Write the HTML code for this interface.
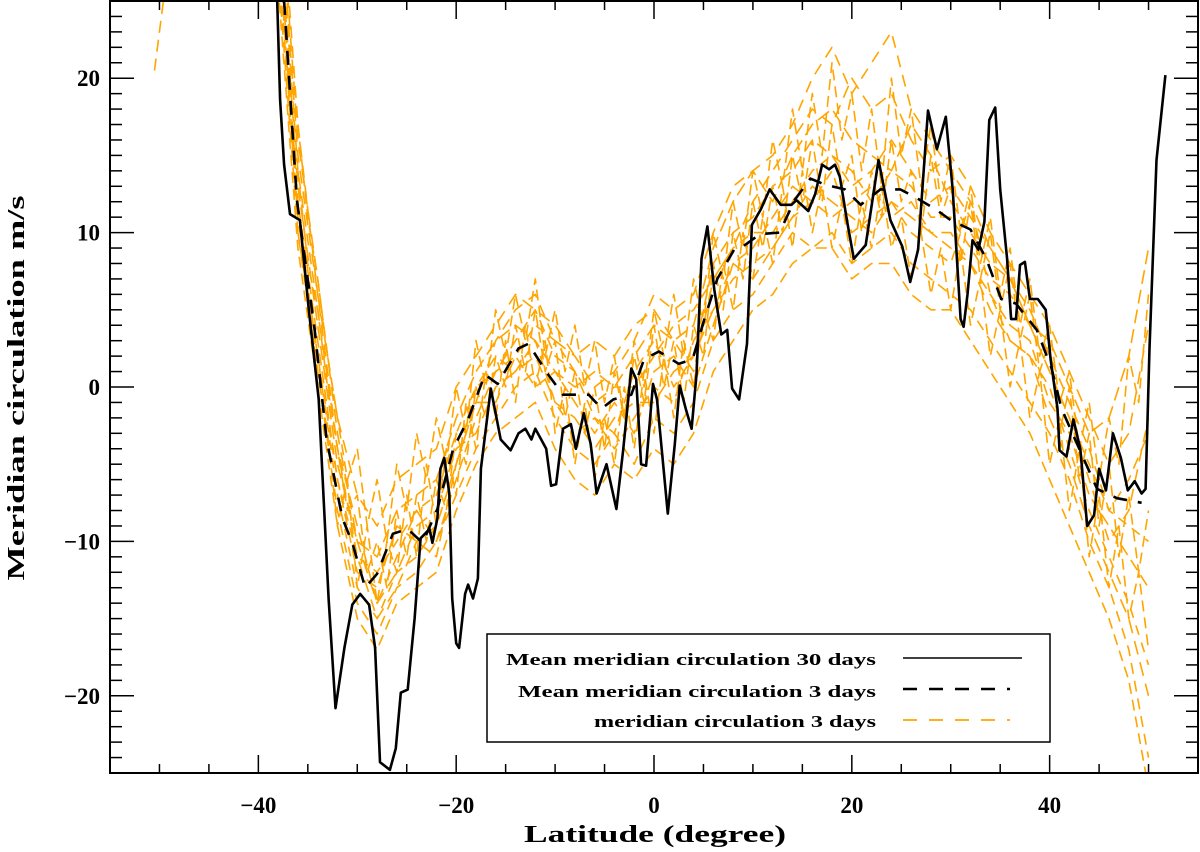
<!DOCTYPE html>
<html><head><meta charset="utf-8"><style>
html,body{margin:0;padding:0;background:#fff;}
svg{display:block;}
text{font-family:"Liberation Serif",serif;font-weight:bold;fill:#000;}
</style></head><body>
<svg id="chart" width="1200" height="852" viewBox="0 0 1200 852" xmlns="http://www.w3.org/2000/svg">
<g id="orange"></g>
<g id="meandash"></g>
<g id="meansolid"></g>
<g id="axes"></g>
<g id="legend">
<rect x="487" y="634" width="563" height="108" fill="#fff" stroke="#000" stroke-width="1.5"/>
<text x="876" y="665" text-anchor="end" font-size="17" textLength="370" lengthAdjust="spacingAndGlyphs">Mean meridian circulation 30 days</text>
<line x1="903" y1="658" x2="1022" y2="658" stroke="#000" stroke-width="1.5"/>
<text x="876" y="697" text-anchor="end" font-size="17" textLength="358" lengthAdjust="spacingAndGlyphs">Mean meridian circulation 3 days</text>
<line x1="903" y1="689" x2="1010" y2="689" stroke="#000" stroke-width="2.5" stroke-dasharray="14 12"/>
<text x="876" y="727" text-anchor="end" font-size="17" textLength="282" lengthAdjust="spacingAndGlyphs">meridian circulation 3 days</text>
<line x1="903" y1="720" x2="1010" y2="720" stroke="#FFA500" stroke-width="1.8" stroke-dasharray="14 12"/>
</g>
<text x="655" y="842" text-anchor="middle" font-size="24" textLength="262" lengthAdjust="spacingAndGlyphs">Latitude (degree)</text>
<text transform="translate(24,388) rotate(-90)" text-anchor="middle" font-size="24" textLength="385" lengthAdjust="spacingAndGlyphs">Meridian circulation m/s</text>
</svg>
<script>
const xTicks = [-40, -20, 0, 20, 40];
const yTicks = [-20, -10, 0, 10, 20];
const solidLat = [-38.1,-37.8,-37.4,-36.8,-35.8,-34.9,-33.9,-33.4,-32.9,-32.2,-31.3,-30.5,-29.7,-28.8,-28.2,-27.7,-26.7,-26.1,-25.6,-24.9,-24.2,-23.6,-22.7,-22.4,-21.9,-21.6,-21.2,-20.7,-20.4,-20.0,-19.7,-19.1,-18.8,-18.3,-17.8,-17.5,-16.5,-15.5,-14.5,-13.7,-13.0,-12.4,-12.0,-11.4,-10.9,-10.4,-9.9,-9.2,-8.4,-7.9,-7.1,-6.4,-5.8,-4.8,-3.8,-3.1,-2.3,-1.8,-1.3,-0.8,-0.1,0.3,1.4,2.1,2.6,3.2,3.8,4.3,4.8,5.4,6.1,6.8,7.4,7.9,8.6,9.4,9.9,10.8,11.7,12.8,13.9,14.4,15.6,16.3,17.0,17.7,18.3,18.8,19.5,20.2,21.4,22.7,23.9,25.1,25.9,26.7,27.2,27.7,28.6,29.5,30.2,31.0,31.3,31.7,32.2,32.8,33.4,33.9,34.5,35.0,35.7,36.1,36.6,37.0,37.5,38.0,38.8,39.6,40.1,40.8,41.0,41.7,42.4,43.1,43.8,44.5,45.0,45.7,46.4,47.2,47.9,48.6,49.3,49.7,50.1,50.8,51.7];
const solidVal = [25.0,18.6,14.4,11.2,10.8,5.0,-0.8,-7.2,-13.7,-20.8,-16.9,-14.1,-13.4,-14.1,-16.9,-24.3,-24.8,-23.4,-19.8,-19.6,-15.0,-9.8,-9.2,-10.1,-8.5,-5.3,-4.6,-6.9,-13.7,-16.6,-16.9,-13.4,-12.8,-13.7,-12.4,-5.3,-0.1,-3.4,-4.1,-3.0,-2.7,-3.4,-2.7,-3.4,-4.0,-6.4,-6.3,-2.7,-2.4,-4.0,-1.7,-3.7,-6.9,-5.0,-7.9,-4.0,1.2,0.5,-5.0,-5.1,0.2,-0.8,-8.2,-3.7,0.1,-1.4,-2.7,0.8,8.3,10.4,6.3,3.4,3.7,-0.1,-0.8,2.8,10.5,11.5,12.8,11.8,11.8,12.1,11.4,12.5,14.4,14.1,14.4,13.6,10.8,8.3,9.2,14.7,10.8,9.1,6.8,8.9,13.4,17.9,15.4,17.5,12.8,4.4,3.9,6.0,9.5,8.9,10.7,17.3,18.1,12.8,8.3,4.4,4.4,7.9,8.1,5.7,5.7,5.0,1.8,-1.4,-4.1,-4.5,-2.1,-4.0,-9.0,-8.3,-5.3,-6.7,-3.0,-4.6,-6.7,-6.1,-6.9,-6.6,2.5,14.7,20.2];
const dashLat = [-37.4,-36.1,-34.3,-33.1,-31.5,-30.5,-29.2,-28.0,-26.4,-24.9,-23.4,-21.9,-20.3,-18.8,-17.1,-15.8,-13.7,-12.7,-10.7,-9.2,-6.6,-5.3,-4.1,-2.3,-1.0,0.5,2.5,3.9,5.1,6.4,8.1,9.2,10.7,12.7,14.2,15.8,17.3,19.3,20.9,22.9,24.9,26.4,28.5,30.0,32.0,33.6,35.1,36.6,38.7,40.2,41.2,43.2,44.8,46.8,49.3];
const dashVal = [25.0,12.1,3.7,-3.4,-8.5,-10.1,-13.0,-12.1,-9.5,-9.2,-10.1,-7.9,-4.0,-2.1,0.8,0.2,2.5,2.8,0.8,-0.5,-0.5,-1.4,-0.8,-0.5,1.8,2.3,1.5,1.8,4.4,7.0,8.9,9.2,9.9,10.0,12.1,13.5,13.1,12.8,11.8,12.8,12.8,12.3,11.5,10.8,10.2,8.3,5.7,5.4,3.7,1.2,-1.4,-4.3,-6.6,-7.2,-7.5];
const orangeLat = [-38,-36,-34,-32,-30,-28,-26,-24,-22,-20,-18,-16,-14,-12,-10,-8,-6,-4,-2,0,2,4,6,8,10,12,14,16,18,20,22,24,26,28,30,32,34,36,38,40,42,44,46,48,50];
const orange1 = [32,14,5,-4,-9,-14,-11,-8,-10,-6,-2,1,3,5,2,1,-2,-3,1,3,0,2,8,10,11,13,14,16,15,13,14,16,14,12,13,11,9,7,5,2,-1,-4,-8,-6,-3];
const orange2 = [29,11,2,-7,-13,-15,-12,-11,-9,-5,0,2,1,3,-1,-3,-2,-4,-2,0,-1,3,5,7,8,9,11,12,14,10,11,12,10,9,8,12,6,3,2,0,-4,-8,-11,-14,-18];
const orange3 = [31,13,4,-5,-10,-11,-8,-7,-6,-2,1,3,4,3,1,0,1,0,2,4,3,4,9,12,14,12,15,17,18,16,15,14,17,15,12,10,8,7,4,3,0,-3,-2,2,9];
const orange4 = [27,10,1,-8,-14,-16,-13,-12,-10,-7,-4,-2,0,1,-2,-4,-5,-3,-5,-2,-3,-1,3,5,6,8,10,9,10,8,9,10,8,7,6,5,3,1,-1,-3,-6,-10,-13,-17,-24];
const orange5 = [33,15,6,-2,-7,-9,-6,-5,-4,0,2,4,6,5,4,2,3,2,4,5,3,1,7,9,12,14,16,18,17,20,18,19,16,14,15,13,10,8,6,4,1,-2,-5,-3,4];
const orange6 = [30,12,3,-6,-12,-13,-9,-10,-11,-5,-1,-1,2,0,1,-1,-3,-1,-3,1,2,0,4,8,9,11,13,12,11,12,13,11,12,10,9,8,6,4,3,-1,-3,-7,-9,-11,-13];
const orange7 = [28,11,2,-6,-11,-12,-10,-8,-7,-3,0,1,2,4,3,1,-1,0,0,2,4,5,7,9,10,10,12,14,15,14,12,14,13,11,11,9,7,6,4,1,-2,-5,-8,-9,-10];
const orange8 = [34,16,7,-3,-10,-14,-12,-9,-8,-4,-3,0,1,2,-1,-2,-4,-2,-1,-1,1,2,5,8,7,9,11,13,12,11,10,12,11,10,10,8,5,3,2,-2,-5,-9,-12,-15,-20];
const orange9 = [35,17,6,-4,-11,-15,-13,-10,-9,-5,-1,3,5,6,3,2,0,1,3,6,5,6,10,13,14,15,17,20,22,19,21,23,18,16,14,12,9,7,4,1,-2,-6,-10,-8,-2];
const orange10 = [26,9,0,-9,-15,-17,-14,-13,-12,-8,-5,-3,-2,-1,-4,-6,-7,-5,-6,-4,-5,-3,1,3,5,6,8,9,9,7,8,8,6,5,5,3,1,-1,-3,-6,-9,-12,-15,-19,-26];
const fineLat = [-36,-35,-34,-33,-32,-31,-30,-29,-28,-27,-26,-25,-24,-23,-22,-21,-20,-19,-18,-17,-16,-15,-14,-13,-12,-11,-10,-9,-8,-7,-6,-5,-4,-3,-2,-1,0,1,2,3,4,5,6,7,8,9,10,11,12,13,14,15,16,17,18,19,20,21,22,23,24,25,26,27,28,29,30,31,32,33,34,35,36,37,38,39,40,41,42,43,44,45,46,47,48,49,50];
const orange11 = [14,8,5,0,-4,-8,-7,-12,-10,-13,-8,-11,-7,-10,-6,-8,-3,-5,0,-2,2,0,4,1,5,1,3,-2,1,-3,0,-4,1,-2,2,-1,4,0,3,-1,4,2,8,5,10,7,12,9,13,10,15,12,16,12,17,13,15,10,14,11,16,12,14,10,15,11,13,8,12,7,10,5,8,3,6,1,3,-3,0,-6,-3,-9,-5,-11,-7,-12,-8];
const orange12 = [10,6,1,-3,-9,-6,-13,-9,-14,-10,-12,-7,-11,-5,-9,-4,-7,-1,-4,1,-2,3,-1,4,0,3,-3,0,-5,-1,-6,-2,-5,0,-4,1,-3,2,-2,3,0,5,3,8,5,10,7,11,8,13,9,14,10,13,9,12,8,12,9,13,9,11,7,10,6,9,5,9,4,7,2,5,0,3,-2,1,-5,-2,-8,-4,-11,-7,-13,-9,-15,-12,-17];
const orange13 = [17,11,7,2,-2,-6,-4,-9,-6,-10,-5,-8,-3,-6,-2,-5,0,-3,3,0,5,2,6,3,7,2,5,1,4,0,3,-1,2,-2,3,0,5,2,6,2,7,4,10,7,12,9,14,11,16,13,18,14,19,15,21,16,19,14,18,13,20,15,18,13,17,12,15,10,13,8,11,6,9,4,7,2,4,-1,1,-4,-1,-6,-2,-5,2,-1,6];
const edgeLat = [-50.5,-49.8,-49.0];
const edgeVal = [20.5,24,28];

const NS = "http://www.w3.org/2000/svg";
const X0 = 110, X1 = 1198, Y0 = 1, Y1 = 773;
const xMin = -55, xMax = 55, yMin = -25, yMax = 25;
function xs(v){ return X0 + (v - xMin) / (xMax - xMin) * (X1 - X0); }
function ys(v){ return Y1 - (v - yMin) / (yMax - yMin) * (Y1 - Y0); }

function makePath(lat, val, parent, stroke, width, dash, name){
  let d = "";
  for (let i = 0; i < lat.length; i++) d += (i ? "L" : "M") + xs(lat[i]).toFixed(1) + "," + ys(val[i]).toFixed(1);
  const p = document.createElementNS(NS, "path");
  p.setAttribute("d", d);
  p.setAttribute("fill", "none");
  p.setAttribute("stroke", stroke);
  p.setAttribute("stroke-width", width);
  p.setAttribute("stroke-linejoin", "round");
  if (dash) p.setAttribute("stroke-dasharray", dash);
  
  
  parent.appendChild(p);
}

const defs = document.createElementNS(NS, "defs");
defs.innerHTML = '<clipPath id="plotclip"><rect x="110" y="1" width="1088" height="772"/></clipPath>';
document.getElementById("chart").insertBefore(defs, document.getElementById("chart").firstChild);
["orange","meandash","meansolid"].forEach(id => document.getElementById(id).setAttribute("clip-path","url(#plotclip)"));

const og = document.getElementById("orange");
const oSeries = [orange1,orange2,orange3,orange4,orange5,orange6,orange7,orange8,orange9,orange10];
const dashes = ["12 7","10 8","14 6","11 7","13 8","12 6","10 7","14 8","12 8","11 6"];
oSeries.forEach((s, k) => makePath(orangeLat, s, og, "#FFA500", 1.6, dashes[k], "orange-series-" + (k + 1)));
[orange11, orange12, orange13].forEach((s, k) => makePath(fineLat, s, og, "#FFA500", 1.6, "11 6", "orange-series-fine-" + (k + 1)));
makePath(edgeLat, edgeVal, og, "#FFA500", 1.6, "12 7", "orange-series-edge");
makePath(dashLat, dashVal, document.getElementById("meandash"), "#000", 2.6, "14 11", "mean-3day-line");
makePath(solidLat, solidVal, document.getElementById("meansolid"), "#000", 2.6, null, "mean-30day-line");

const ag = document.getElementById("axes");
const frame = document.createElementNS(NS, "rect");
frame.setAttribute("x", X0); frame.setAttribute("y", Y0);
frame.setAttribute("width", X1 - X0); frame.setAttribute("height", Y1 - Y0);
frame.setAttribute("fill", "none"); frame.setAttribute("stroke", "#000"); frame.setAttribute("stroke-width", "2");


ag.appendChild(frame);
function tick(x1, y1, x2, y2){
  const l = document.createElementNS(NS, "line");
  l.setAttribute("x1", x1); l.setAttribute("y1", y1); l.setAttribute("x2", x2); l.setAttribute("y2", y2);
  l.setAttribute("stroke", "#000"); l.setAttribute("stroke-width", "1.5");
  
  
  ag.appendChild(l);
}
for (let v = -50; v <= 50; v += 5) {
  const major = v % 20 === 0;
  const len = major ? 18 : 9;
  tick(xs(v), Y1, xs(v), Y1 - len);
  tick(xs(v), Y0, xs(v), Y0 + len);
}
for (let v = -24; v <= 24; v += 1) {
  const major = v % 10 === 0;
  const len = major ? 24 : 12;
  tick(X0, ys(v), X0 + len, ys(v));
  tick(X1, ys(v), X1 - len, ys(v));
}
xTicks.forEach(v => {
  const t = document.createElementNS(NS, "text");
  t.setAttribute("x", xs(v)); t.setAttribute("y", 813);
  t.setAttribute("text-anchor", "middle"); t.setAttribute("font-size", "23");
  t.textContent = (v < 0 ? "\u2212" : "") + Math.abs(v);
  
  
  ag.appendChild(t);
});
yTicks.forEach(v => {
  const t = document.createElementNS(NS, "text");
  t.setAttribute("x", 100); t.setAttribute("y", ys(v) + 8);
  t.setAttribute("text-anchor", "end"); t.setAttribute("font-size", "23");
  t.textContent = (v < 0 ? "\u2212" : "") + Math.abs(v);
  
  
  ag.appendChild(t);
});
</script>
</body></html>
